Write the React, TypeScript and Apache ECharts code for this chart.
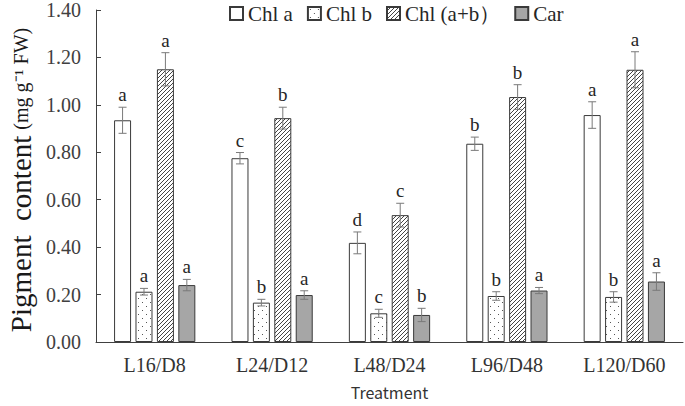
import React, { useEffect, useRef } from "react";
import * as echarts from "echarts";

const categories = ["L16/D8", "L24/D12", "L48/D24", "L96/D48", "L120/D60"];
const seriesNames = ["Chl a", "Chl b", "Chl (a+b）", "Car"];
const chlA = [0.935, 0.775, 0.418, 0.836, 0.957];
const chlB = [0.212, 0.166, 0.121, 0.194, 0.19];
const chlAB = [1.15, 0.944, 0.535, 1.033, 1.148];
const car = [0.24, 0.198, 0.114, 0.217, 0.255];
const errA = [0.055, 0.024, 0.046, 0.028, 0.056];
const errB = [0.014, 0.014, 0.017, 0.018, 0.022];
const errAB = [0.07, 0.046, 0.05, 0.052, 0.076];
const errCar = [0.024, 0.018, 0.028, 0.013, 0.037];
const lettersA = ["a", "c", "d", "b", "a"];
const lettersB = ["a", "b", "c", "b", "b"];
const lettersAB = ["a", "b", "c", "b", "a"];
const lettersCar = ["a", "a", "b", "a", "a"];
const yTicks = [0, 0.2, 0.4, 0.6, 0.8, 1.0, 1.2, 1.4];

function makeHatch(): string {
  const c = document.createElement("canvas");
  c.width = 4;
  c.height = 4;
  const g = c.getContext("2d")!;
  g.fillStyle = "#ffffff";
  g.fillRect(0, 0, 4, 4);
  g.strokeStyle = "#444444";
  g.lineWidth = 1;
  g.beginPath();
  g.moveTo(0, 4);
  g.lineTo(4, 0);
  g.moveTo(-1, 1);
  g.lineTo(1, -1);
  g.moveTo(3, 5);
  g.lineTo(5, 3);
  g.stroke();
  return c.toDataURL();
}

function makeDots(): string {
  const c = document.createElement("canvas");
  c.width = 8;
  c.height = 8;
  const g = c.getContext("2d")!;
  g.fillStyle = "#ffffff";
  g.fillRect(0, 0, 8, 8);
  g.fillStyle = "#555555";
  g.fillRect(2, 2, 1, 1);
  g.fillRect(6, 6, 1, 1);
  return c.toDataURL();
}

export default function App() {
  const ref = useRef<HTMLDivElement>(null);
  useEffect(() => {
    if (!ref.current) return;
    const chart = echarts.init(ref.current, null, { renderer: "svg" });
    const hatch = { image: makeHatch(), repeat: "repeat" };
    const dots = { image: makeDots(), repeat: "repeat" };
    const values = [chlA, chlB, chlAB, car];
    const errs = [errA, errB, errAB, errCar];
    const letters = [lettersA, lettersB, lettersAB, lettersCar];
    const fills: any[] = ["#ffffff", dots, hatch, "#a6a6a6"];
    const barW = 17;
    const gapPct = 0.26;
    const serif = "Liberation Serif";

    const errData: any[] = [];
    for (let s = 0; s < 4; s++) {
      for (let i = 0; i < categories.length; i++) {
        errData.push([i, values[s][i], errs[s][i], s, letters[s][i]]);
      }
    }

    const barSeries = seriesNames.map((name, s) => ({
      name,
      type: "bar",
      data: values[s],
      barWidth: barW,
      barGap: gapPct * 100 + "%",
      itemStyle: { color: fills[s], borderColor: "#3a3a3a", borderWidth: 1 },
      z: 2,
    }));

    chart.setOption({
      animation: false,
      textStyle: { fontFamily: serif },
      grid: {
        left: 96,
        right: 2,
        top: 10,
        bottom: 64,
        containLabel: false,
        outerBoundsMode: "none",
      },
      legend: {
        data: seriesNames,
        top: -2,
        left: 224,
        itemWidth: 13,
        itemHeight: 13,
        itemGap: 14,
        icon: "rect",
        textStyle: { fontFamily: serif, fontSize: 21, color: "#262626" },
      },
      xAxis: {
        type: "category",
        data: categories,
        name: "Treatment",
        nameLocation: "middle",
        nameGap: 41,
        nameTextStyle: {
          fontFamily: "Noto Sans CJK SC",
          fontSize: 16,
          lineHeight: 18,
          color: "#333",
        },
        axisLine: { lineStyle: { color: "#404040", width: 1 } },
        axisTick: { show: false },
        axisLabel: { fontFamily: serif, fontSize: 20, color: "#333", margin: 13 },
      },
      yAxis: {
        type: "value",
        min: 0,
        max: 1.4,
        interval: 0.2,
        name: "{a|Pigment  content}  {b|(mg g⁻¹ FW)}",
        nameLocation: "middle",
        nameRotate: 90,
        nameGap: 58,
        nameTextStyle: {
          color: "#1a1a1a",
          fontFamily: serif,
          padding: [0, 8, 0, 0],
          rich: {
            a: { fontFamily: serif, fontSize: 29, color: "#1a1a1a" },
            b: { fontFamily: serif, fontSize: 20, color: "#1a1a1a" },
          },
        },
        axisLine: { show: true, lineStyle: { color: "#404040", width: 1 } },
        axisTick: { show: true, inside: true, length: 5, lineStyle: { color: "#404040" } },
        splitLine: { show: false },
        axisLabel: {
          fontFamily: serif,
          fontSize: 20,
          color: "#404040",
          margin: 15,
          formatter: (v: number) => (yTicks.includes(Math.round(v * 10) / 10) ? v.toFixed(2) : ""),
        },
      },
      series: [
        ...barSeries,
        {
          type: "custom",
          name: "err",
          data: errData,
          encode: { x: 0, y: 1 },
          z: 5,
          clip: false,
          renderItem: (params: any, api: any) => {
            const cat = api.value(0);
            const v = api.value(1);
            const e = api.value(2);
            const s = api.value(3);
            const letter = errData[params.dataIndex][4];
            const center = api.coord([cat, v]);
            const step = barW * (1 + gapPct);
            const x = center[0] + (s - 1.5) * step;
            const yTop = api.coord([cat, v + e])[1];
            const yBot = api.coord([cat, v - e])[1];
            const cap = 4;
            const ls = { stroke: "#7a7a7a", lineWidth: 1 };
            return {
              type: "group",
              children: [
                { type: "line", shape: { x1: x, y1: yTop, x2: x, y2: yBot }, style: ls },
                { type: "line", shape: { x1: x - cap, y1: yTop, x2: x + cap, y2: yTop }, style: ls },
                { type: "line", shape: { x1: x - cap, y1: yBot, x2: x + cap, y2: yBot }, style: ls },
                {
                  type: "text",
                  x: x,
                  y: yTop - 3,
                  style: {
                    text: letter,
                    font: "19px 'Liberation Serif'",
                    fontFamily: serif,
                    fontSize: 19,
                    fill: "#262626",
                    align: "center",
                    verticalAlign: "bottom",
                  },
                },
              ],
            };
          },
        },
      ],
    });
    return () => chart.dispose();
  }, []);
  return (
    <div
      ref={ref}
      style={{ position: "absolute", left: 0, top: 0, width: 685, height: 406 }}
    />
  );
}
